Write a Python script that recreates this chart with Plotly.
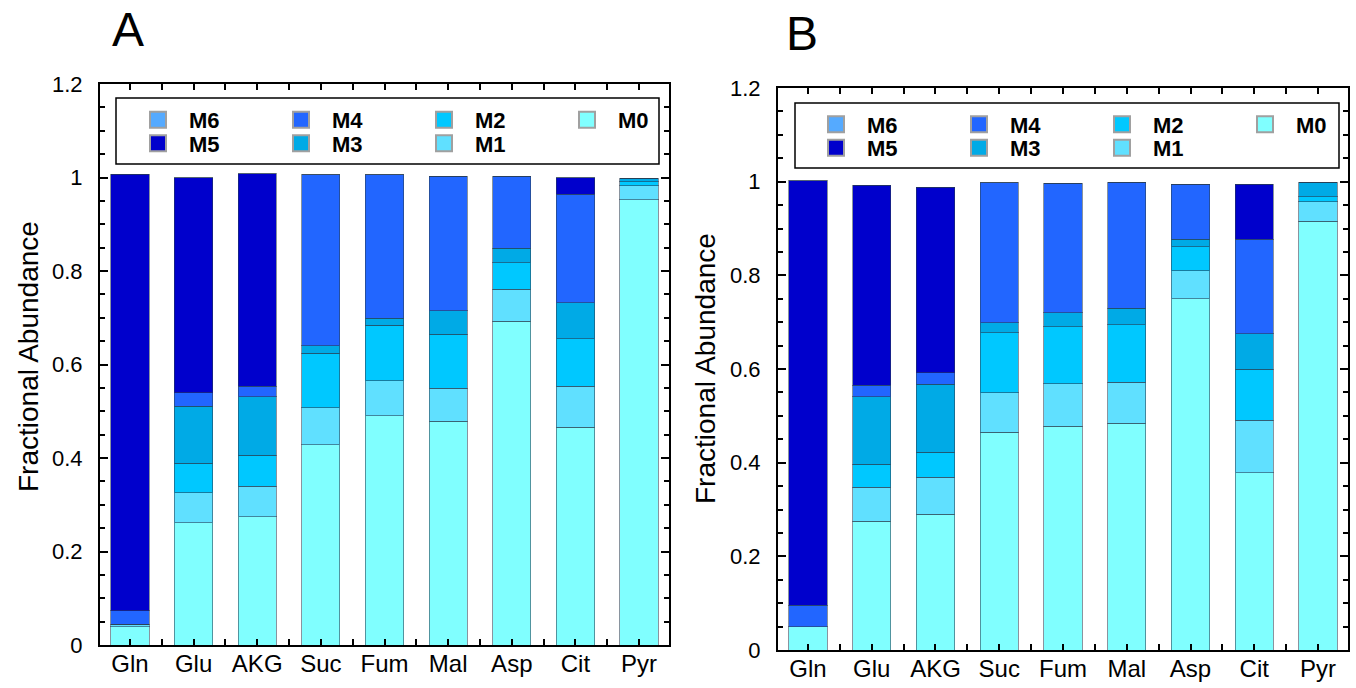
import plotly.graph_objects as go

# ---------------- data ----------------
categories = ["Gln", "Glu", "AKG", "Suc", "Fum", "Mal", "Asp", "Cit", "Pyr"]
series = ["M0", "M1", "M2", "M3", "M4", "M5", "M6"]

# Panel A fractional abundances (segment sizes, stacked M0 -> M6)
A_M0 = [0.039, 0.262, 0.274, 0.428, 0.490, 0.479, 0.693, 0.466, 0.952]
A_M1 = [0.005, 0.064, 0.066, 0.080, 0.075, 0.070, 0.068, 0.088, 0.030]
A_M2 = [0.000, 0.063, 0.066, 0.116, 0.119, 0.116, 0.057, 0.101, 0.009]
A_M3 = [0.000, 0.122, 0.125, 0.016, 0.015, 0.050, 0.031, 0.077, 0.007]
A_M4 = [0.029, 0.029, 0.023, 0.366, 0.307, 0.288, 0.154, 0.232, 0.000]
A_M5 = [0.934, 0.460, 0.454, 0.000, 0.000, 0.000, 0.000, 0.035, 0.000]
A_M6 = [0.000, 0.000, 0.000, 0.000, 0.000, 0.000, 0.000, 0.000, 0.000]

# Panel B fractional abundances (segment sizes, stacked M0 -> M6)
B_M0 = [0.050, 0.275, 0.290, 0.465, 0.478, 0.484, 0.750, 0.379, 0.916]
B_M1 = [0.000, 0.073, 0.079, 0.084, 0.091, 0.088, 0.060, 0.112, 0.041]
B_M2 = [0.000, 0.049, 0.053, 0.128, 0.121, 0.122, 0.051, 0.109, 0.011]
B_M3 = [0.000, 0.144, 0.145, 0.022, 0.030, 0.036, 0.016, 0.075, 0.031]
B_M4 = [0.046, 0.024, 0.025, 0.299, 0.277, 0.269, 0.118, 0.202, 0.000]
B_M5 = [0.906, 0.427, 0.396, 0.000, 0.000, 0.000, 0.000, 0.118, 0.000]
B_M6 = [0.000, 0.000, 0.000, 0.000, 0.000, 0.000, 0.000, 0.000, 0.000]

y_tickvals = [0, 0.2, 0.4, 0.6, 0.8, 1.0, 1.2]
y_ticktext = ["0", "0.2", "0.4", "0.6", "0.8", "1", "1.2"]

# ---------------- style ----------------
colors = {
    "M0": "#80FFFF",
    "M1": "#60E0FF",
    "M2": "#00C8FF",
    "M3": "#00AAE6",
    "M4": "#2266FF",
    "M5": "#0000CC",
    "M6": "#55AAFF",
}
# legend grid position (column, row) of each entry
legend_cell = {"M6": (0, 0), "M5": (0, 1), "M4": (1, 0), "M3": (1, 1),
               "M2": (2, 0), "M1": (2, 1), "M0": (3, 0)}
FONT = "Arial, Liberation Sans, Helvetica, sans-serif"
W, H = 1356, 688
ITEMW = 52
LEG_FONT = 22

panels = [
    dict(vals=[A_M0, A_M1, A_M2, A_M3, A_M4, A_M5, A_M6], xa="x", ya="y",
         col_x=[158, 301, 444, 587], row_y=[120, 143.5], box=(116, 98, 659, 164)),
    dict(vals=[B_M0, B_M1, B_M2, B_M3, B_M4, B_M5, B_M6], xa="x2", ya="y2",
         col_x=[836, 979, 1122, 1265], row_y=[124.5, 148], box=(795, 103, 1339, 168)),
]
xpos = list(range(len(categories)))

fig = go.Figure()
legend_layouts = {}
shapes = []
leg_idx = 0
for p in panels:
    for name, vals in zip(series, p["vals"]):
        fig.add_trace(go.Bar(
            x=xpos, y=vals, xaxis=p["xa"], yaxis=p["ya"], width=0.6,
            marker=dict(color=colors[name], line=dict(color="rgba(40,60,80,0.55)", width=1)),
            showlegend=False, name=name, hoverinfo="name+y",
        ))
    for name in ["M6", "M5", "M4", "M3", "M2", "M1", "M0"]:
        leg_idx += 1
        lid = "legend" if leg_idx == 1 else f"legend{leg_idx}"
        c, r = legend_cell[name]
        fig.add_trace(go.Scatter(
            x=[None], y=[None], xaxis=p["xa"], yaxis=p["ya"], mode="markers",
            marker=dict(symbol="square", size=16, color=colors[name],
                        line=dict(color="#a0a0a0", width=2)),
            name=name, legend=lid, showlegend=True,
        ))
        legend_layouts[lid] = dict(
            x=(p["col_x"][c] - (ITEMW / 2 + 5)) / W, y=(H - p["row_y"][r]) / H,
            xanchor="left", yanchor="middle", orientation="v",
            bgcolor="rgba(0,0,0,0)", borderwidth=0, itemwidth=ITEMW,
            font=dict(family=FONT, size=LEG_FONT, color="black", weight="bold"),
            itemclick=False, itemdoubleclick=False,
        )
    x0, y0, x1, y1 = p["box"]
    shapes.append(dict(type="rect", xref="paper", yref="paper",
                       x0=x0 / W, x1=x1 / W, y0=(H - y1) / H, y1=(H - y0) / H,
                       line=dict(color="black", width=1.5), fillcolor="white", layer="above"))

fig.update_layout(barmode="stack")

def xaxis_cfg(d0, d1, anchor):
    return dict(
        domain=[d0, d1], anchor=anchor, range=[-0.47, 8.47],
        tickmode="array", tickvals=xpos, ticktext=categories,
        ticks="inside", ticklen=6, tickwidth=1.5, tickcolor="black",
        minor=dict(tick0=0.5, dtick=1, ticks="inside", ticklen=6, tickwidth=1.5, tickcolor="black"),
        showline=True, linecolor="black", linewidth=2, mirror="ticks",
        showgrid=False, zeroline=False, fixedrange=True, automargin=False,
        tickfont=dict(family=FONT, size=24, color="black"),
        ticklabelstandoff=-4,
    )

def yaxis_cfg(d0, d1, anchor):
    return dict(
        domain=[d0, d1], anchor=anchor, range=[0, 1.2],
        tickmode="array", tickvals=y_tickvals, ticktext=y_ticktext,
        ticks="inside", ticklen=8, tickwidth=1.5, tickcolor="black",
        minor=dict(tick0=0, dtick=0.05, ticks="inside", ticklen=5, tickwidth=1.5, tickcolor="black"),
        showline=True, linecolor="black", linewidth=2, mirror="ticks",
        showgrid=False, zeroline=False, fixedrange=True, automargin=False,
        tickfont=dict(family=FONT, size=22, color="black"),
        ticklabelstandoff=11,
    )

fig.update_layout(
    width=W, height=H, autosize=False,
    margin=dict(l=0, r=0, t=0, b=0, autoexpand=False),
    paper_bgcolor="white", plot_bgcolor="white",
    xaxis=xaxis_cfg(100 / W, 669 / W, "y"),
    yaxis=yaxis_cfg((H - 645) / H, (H - 84) / H, "x"),
    xaxis2=xaxis_cfg(778 / W, 1348 / W, "y2"),
    yaxis2=yaxis_cfg((H - 650) / H, (H - 88) / H, "x2"),
    shapes=shapes,
    **legend_layouts,
)

annotations = [
    dict(text="A", x=128 / W, y=(H - 30) / H, xref="paper", yref="paper",
         xanchor="center", yanchor="middle",
         showarrow=False, font=dict(family=FONT, size=48, color="black")),
    dict(text="B", x=802 / W, y=(H - 34) / H, xref="paper", yref="paper",
         xanchor="center", yanchor="middle",
         showarrow=False, font=dict(family=FONT, size=48, color="black")),
    dict(text="Fractional Abundance", textangle=-90, x=29 / W, y=(H - 357) / H,
         xref="paper", yref="paper", xanchor="center", yanchor="middle", showarrow=False,
         font=dict(family=FONT, size=28, color="black")),
    dict(text="Fractional Abundance", textangle=-90, x=706 / W, y=(H - 369) / H,
         xref="paper", yref="paper", xanchor="center", yanchor="middle", showarrow=False,
         font=dict(family=FONT, size=28, color="black")),
]
fig.update_layout(annotations=annotations)

fig.write_html("out.html")
